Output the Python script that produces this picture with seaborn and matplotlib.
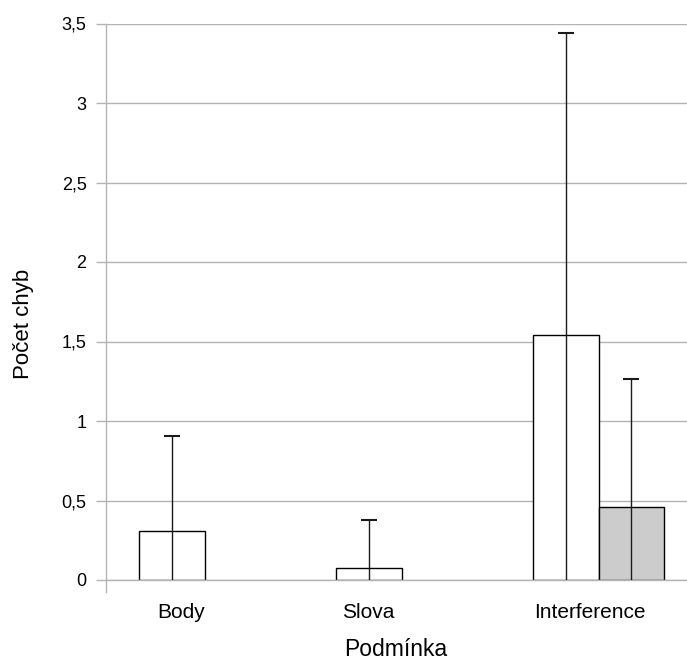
import numpy as np
import pandas as pd
import matplotlib
matplotlib.use("Agg")
import matplotlib.pyplot as plt
import seaborn as sns

# Mean error counts per condition and group, with standard deviations
conditions = ["Body", "Slova", "Interference"]
groups = ["A", "B"]
means_a = [0.308, 0.077, 1.538]
means_b = [np.nan, np.nan, 0.462]
sd_a = [0.598, 0.300, 1.900]
sd_b = [np.nan, np.nan, 0.800]
y_ticks = [0, 0.5, 1, 1.5, 2, 2.5, 3, 3.5]
y_tick_labels = ["0", "0,5", "1", "1,5", "2", "2,5", "3", "3,5"]

df = pd.DataFrame({
    "Podmínka": conditions * 2,
    "skupina": [groups[0]] * 3 + [groups[1]] * 3,
    "Počet chyb": means_a + means_b,
    "sd": sd_a + sd_b,
})

sns.set_theme(style="white")
plt.rcParams["font.family"] = ["Liberation Sans", "DejaVu Sans"]

fig = plt.figure(figsize=(6.87, 6.62), dpi=100)
ax = fig.add_axes([106 / 687, 82 / 662, 591 / 687, 556.5 / 662])

grid_col = "#b3b3b3"
sns.barplot(
    data=df.dropna(subset=["Počet chyb"]),
    x="Podmínka", y="Počet chyb", hue="skupina",
    order=conditions, hue_order=groups,
    palette={"A": "#ffffff", "B": "#cccccc"},
    edgecolor="black", linewidth=1.0,
    width=0.67, gap=0, errorbar=None, legend=False, ax=ax, zorder=2,
)

# Error bars placed on the drawn bars (centre and height from the patches)
for container, grp in zip(ax.containers, groups):
    sub = df[df["skupina"] == grp].dropna(subset=["Počet chyb"])
    for patch, (_, row) in zip(container.patches, sub.iterrows()):
        xc = patch.get_x() + patch.get_width() / 2
        ax.errorbar(xc, patch.get_height(), yerr=row["sd"], fmt="none",
                    ecolor="#1a1a1a", elinewidth=1.0, capsize=5.8,
                    capthick=1.5, zorder=3)

ax.set_ylim(0, 3.5)
ax.set_xlim(-0.5, 2.5)
ax.set_yticks(y_ticks)
ax.set_yticklabels(y_tick_labels)
ax.yaxis.grid(True, color=grid_col, linewidth=1.0, zorder=0)
ax.set_axisbelow(True)

for side in ["top", "right"]:
    ax.spines[side].set_visible(False)
ax.spines["bottom"].set_color(grid_col)
ax.spines["bottom"].set_linewidth(1.0)
ax.spines["left"].set_color(grid_col)
ax.spines["left"].set_linewidth(1.0)
ax.spines["left"].set_bounds(-0.075, 3.5)

ax.tick_params(axis="y", direction="out", length=7, width=1.0, color=grid_col,
               pad=7, labelsize=13, labelcolor="black", left=True)
ax.tick_params(axis="x", length=0, pad=23.4, labelsize=15, labelcolor="black")

# Category labels sit slightly off the group centres
label_offsets = [-0.117, -0.168, -0.046]
ax.set_xticks([i + o for i, o in enumerate(label_offsets)])
ax.set_xticklabels(conditions)
for lbl in ax.get_xticklabels():
    lbl.set_va("center")

ax.set_xlabel("Podmínka", fontsize=16.5, color="black")
ax.set_ylabel("Počet chyb", fontsize=16, color="black")
ax.xaxis.set_label_coords((396 - 106) / 591, -(650 - 580) / 556.5)
ax.yaxis.set_label_coords((23 - 106) / 591, (580 - 324) / 556.5)
ax.xaxis.label.set_va("center")
ax.yaxis.label.set_va("center")

fig.savefig("out.png", dpi=100)
